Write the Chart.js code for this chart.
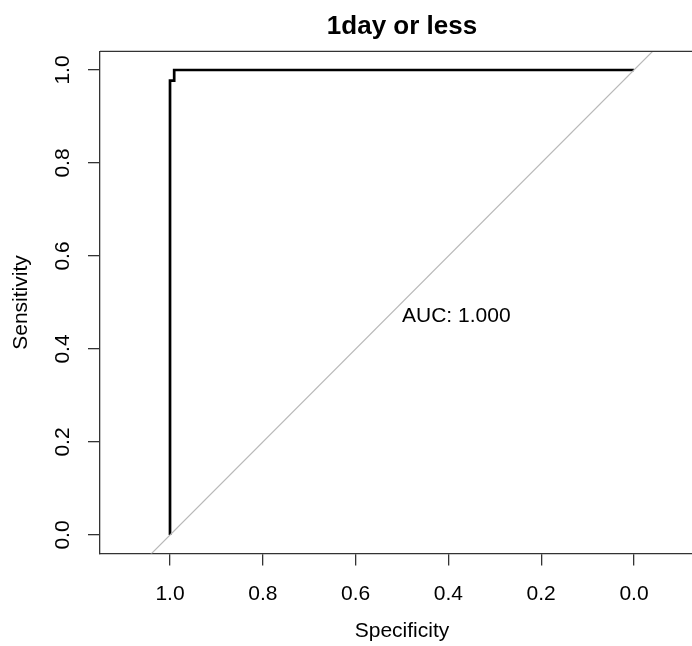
<!DOCTYPE html>
<html>
<head>
<meta charset="utf-8">
<title>1day or less</title>
<script src="https://cdn.jsdelivr.net/npm/chart.js@4.4.0/dist/chart.umd.min.js"></script>
<style>
    html, body { margin: 0; padding: 0; background: #fff; overflow: hidden; width: 692px; height: 646px; }
    #wrap { width: 804px; height: 646px; }
</style>
</head>
<body>
<div id="wrap"><canvas id="rocChart" width="804" height="646"></canvas></div>
<script>
// ROC curve
const specificity = [1, 1, 0.991, 0.991, 0];
const sensitivity = [0, 0.977, 0.977, 1, 1];

const xTicks = [1.0, 0.8, 0.6, 0.4, 0.2, 0.0];
const yTicks = [0.0, 0.2, 0.4, 0.6, 0.8, 1.0];

// axis limits (R style, square plot)
const xMin = -0.1509, xMax = 1.1509;
const yMin = -0.04, yMax = 1.04;

const aucLabel = 'AUC: 1.000';
const aucPos = [0.5, 0.5];

const FONT = "'Liberation Sans', Arial, sans-serif";
const AXIS_COLOR = '#333';

// diagonal (identity) line across the whole plot
const diagX = [xMax, xMin];
const diagY = diagX.map(v => 1 - v);

const boxAndText = {
    id: 'boxAndText',
    afterDraw(chart) {
        const ctx = chart.ctx;
        const a = chart.chartArea;
        const xs = chart.scales.x, ys = chart.scales.y;
        ctx.save();
        ctx.strokeStyle = AXIS_COLOR;
        ctx.lineWidth = 1.3;
        ctx.beginPath();
        ctx.moveTo(a.left, a.top);
        ctx.lineTo(a.right, a.top);
        ctx.lineTo(a.right, a.bottom);
        ctx.stroke();

        ctx.fillStyle = '#000';
        ctx.font = '21px ' + FONT;
        ctx.textAlign = 'left';
        ctx.textBaseline = 'alphabetic';
        ctx.fillText(aucLabel, xs.getPixelForValue(aucPos[0]), ys.getPixelForValue(aucPos[1]) + 19);
        ctx.restore();
    }
};

function makeChart() {
    const ctx = document.getElementById('rocChart').getContext('2d');
    new Chart(ctx, {
        type: 'scatter',
        data: {
            datasets: [{
                label: 'diagonal',
                data: diagX.map((x, i) => ({ x: x, y: diagY[i] })),
                showLine: true,
                borderColor: '#b8b8b8',
                borderWidth: 1.2,
                pointRadius: 0
            }, {
                label: 'ROC',
                data: specificity.map((x, i) => ({ x: x, y: sensitivity[i] })),
                showLine: true,
                borderColor: '#000',
                borderWidth: 2.7,
                pointRadius: 0
            }]
        },
        options: {
            responsive: false,
            animation: false,
            layout: { padding: { left: 0, right: 100, top: 0, bottom: 0 } },
            plugins: {
                legend: { display: false },
                tooltip: { enabled: false },
                title: {
                    display: true,
                    fullSize: false,
                    text: '1day or less',
                    color: '#000',
                    font: { family: FONT, size: 26, weight: 'bold', lineHeight: 1.2 },
                    padding: { top: 11.3, bottom: 8.9 }
                }
            },
            scales: {
                x: {
                    type: 'linear',
                    reverse: true,
                    min: xMin,
                    max: xMax,
                    afterBuildTicks: s => { s.ticks = xTicks.map(v => ({ value: v })); },
                    afterFit: s => { s.height = 92.4; },
                    grid: { drawOnChartArea: false, drawTicks: true, tickLength: 12, color: AXIS_COLOR, lineWidth: 1.3 },
                    border: { display: true, color: AXIS_COLOR, width: 1.3 },
                    ticks: {
                        autoSkip: false,
                        maxRotation: 0,
                        padding: 15.8,
                        color: '#000',
                        font: { family: FONT, size: 21 },
                        callback: v => Number(v).toFixed(1)
                    },
                    title: {
                        display: true,
                        text: 'Specificity',
                        color: '#000',
                        font: { family: FONT, size: 21 },
                        padding: { top: 0, bottom: 2.4 }
                    }
                },
                y: {
                    type: 'linear',
                    min: yMin,
                    max: yMax,
                    afterBuildTicks: s => { s.ticks = yTicks.map(v => ({ value: v })); },
                    afterFit: s => { s.width = 100; },
                    grid: { drawOnChartArea: false, drawTicks: true, tickLength: 12, color: AXIS_COLOR, lineWidth: 1.3 },
                    border: { display: true, color: AXIS_COLOR, width: 1.3 },
                    ticks: {
                        minRotation: 90,
                        maxRotation: 90,
                        crossAlign: 'center',
                        padding: 10.6,
                        color: '#000',
                        font: { family: FONT, size: 21 },
                        callback: v => Number(v).toFixed(1)
                    },
                    title: {
                        display: true,
                        text: 'Sensitivity',
                        color: '#000',
                        font: { family: FONT, size: 21 },
                        padding: { top: 8.4, bottom: 0 }
                    }
                }
            }
        },
        plugins: [boxAndText]
    });
}

window.onload = makeChart;
</script>
</body>
</html>
